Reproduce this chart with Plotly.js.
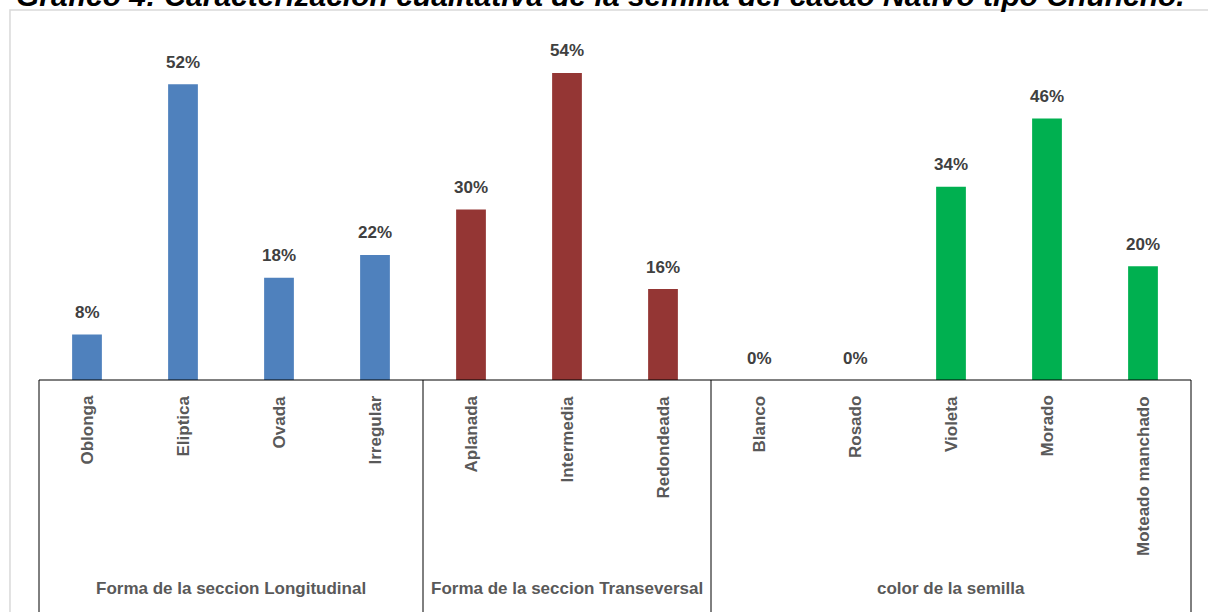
<!DOCTYPE html>
<html>
<head>
<meta charset="utf-8">
<script src="https://cdn.plot.ly/plotly-3.0.1.min.js"></script>
<style>
  html, body { margin: 0; padding: 0; background: #fff; }
  #chart { width: 1208px; height: 612px; }
</style>
</head>
<body>
<div id="chart"></div>
<script>
// ---- data ----
const categories = ["Oblonga", "Eliptica", "Ovada", "Irregular", "Aplanada", "Intermedia", "Redondeada", "Blanco", "Rosado", "Violeta", "Morado", "Moteado manchado"];
const values = [8, 52, 18, 22, 30, 54, 16, 0, 0, 34, 46, 20];
const valueLabels = ["8%", "52%", "18%", "22%", "30%", "54%", "16%", "0%", "0%", "34%", "46%", "20%"];
const groupNames = ["Forma de la seccion Longitudinal", "Forma de la seccion Transeversal", "color de la semilla"];
const groupSizes = [4, 3, 5];
const groupColors = ["#4F81BD", "#943634", "#00B050"];
const titleText = "Gráfico 4: Caracterización cualitativa de la semilla del cacao Nativo tipo Chuncho.";

// ---- build ----
const font = "Liberation Sans Narrow, Arial Narrow, Liberation Sans, Arial, sans-serif";
const n = categories.length;
const idx = categories.map((_, i) => i);
const barColors = [];
const groupStart = [];
let acc = 0;
groupSizes.forEach((s, g) => {
  groupStart.push(acc);
  for (let k = 0; k < s; k++) barColors.push(groupColors[g]);
  acc += s;
});

const trace = {
  type: "bar",
  x: idx,
  y: values,
  width: 0.31,
  marker: { color: barColors, line: { width: 0 } },
  hoverinfo: "none"
};

const annotations = [];
values.forEach((v, i) => {
  annotations.push({
    x: i, xref: "x", y: v, yref: "y", yshift: 22,
    text: "<b>" + valueLabels[i] + "</b>", showarrow: false,
    xanchor: "center", yanchor: "middle",
    font: { family: font, size: 17, color: "#404040" }
  });
});
categories.forEach((c, i) => {
  annotations.push({
    x: i, xref: "x", y: 0, yref: "y", yshift: -14,
    text: "<b>" + c + "</b>", showarrow: false, textangle: -90,
    xanchor: "center", yanchor: "top",
    font: { family: font, size: 17, color: "#595959" }
  });
});
groupNames.forEach((g, k) => {
  const mid = (groupStart[k] + groupSizes[k] / 2) / n;
  annotations.push({
    x: mid, xref: "paper", y: 0, yref: "y", yshift: -208,
    text: "<b>" + g + "</b>", showarrow: false,
    xanchor: "center", yanchor: "middle",
    font: { family: font, size: 17, color: "#595959" }
  });
});
annotations.push({
  x: -0.0217, xref: "paper", y: 1.0, yref: "paper", yshift: 6,
  text: "<i><b>" + titleText + "</b></i>", showarrow: false,
  xanchor: "left", yanchor: "bottom",
  font: { family: "Liberation Sans, Arial, sans-serif", size: 30, color: "#000" }
});

const shapes = [];
// outer frame
shapes.push({ type: "rect", xref: "paper", yref: "paper", x0: -0.0252, x1: 1.2, y0: -1, y1: 1.0278,
  line: { color: "#D9D9D9", width: 1.5 }, fillcolor: "rgba(0,0,0,0)", layer: "below" });
// category table lines
const bounds = [0];
groupSizes.reduce((a, s) => { bounds.push((a + s) / n); return a + s; }, 0);
bounds.forEach(b => {
  shapes.push({ type: "line", xref: "paper", yref: "paper", x0: b, x1: b, y0: 0, y1: -1,
    line: { color: "#000", width: 1 } });
});
shapes.push({ type: "line", xref: "paper", yref: "paper", x0: 0, x1: 1, y0: 0, y1: 0,
  line: { color: "#000", width: 1 } });

const layout = {
  width: 1208, height: 612,
  margin: { l: 39, r: 17, t: 20, b: 232, pad: 0 },
  paper_bgcolor: "#fff", plot_bgcolor: "#fff",
  showlegend: false,
  xaxis: { range: [-0.5, n - 0.5], showticklabels: false, ticks: "", showgrid: false, zeroline: false, showline: false, fixedrange: true },
  yaxis: { range: [0, 63.3], visible: false, showgrid: false, zeroline: false, fixedrange: true },
  annotations: annotations,
  shapes: shapes
};

Plotly.newPlot("chart", [trace], layout, { staticPlot: true, displayModeBar: false });
</script>
</body>
</html>
